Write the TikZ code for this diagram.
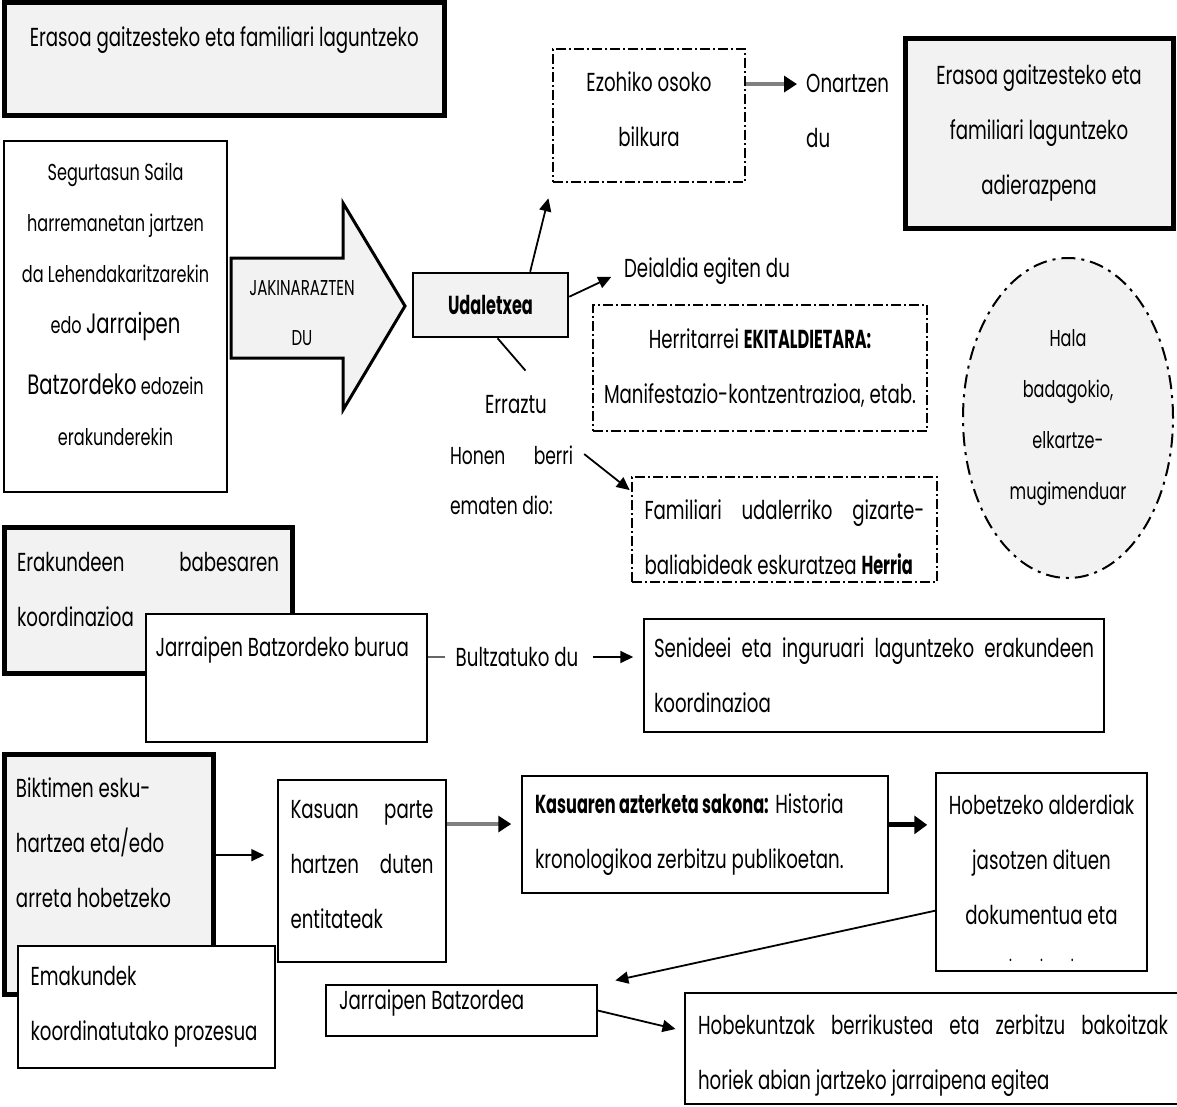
\documentclass[tikz,border=0pt]{standalone}
\usepackage{fontspec}
\setmainfont{Poppins}[FakeStretch=0.70, BoldFeatures={FakeStretch=0.62}]
\usetikzlibrary{arrows.meta, positioning, shapes.geometric, calc}
\definecolor{boxgray}{RGB}{242,242,242}
\hyphenpenalty=10000
\exhyphenpenalty=10000

\tikzset{
  plainbox/.style={draw, line width=1.5pt, fill=white, inner sep=0pt},
  heavybox/.style={draw, line width=5pt, fill=boxgray, inner sep=0pt},
  dashbox/.style={draw, line width=1.5pt, dash pattern=on 10pt off 3pt on 2pt off 3pt, inner sep=0pt},
  arr/.style={line width=1.8pt, -{Triangle[length=13pt,width=12pt]}},
  grayarr/.style={line width=4.5pt, draw=black!50, -{Triangle[length=13pt,width=16pt,color=black]}},
  fatarr/.style={line width=5pt, -{Triangle[length=13pt,width=18pt]}},
  small/.style={font=\fontsize{23}{51}\selectfont},
  tiny/.style={font=\fontsize{21.5}{50}\selectfont},
}

\begin{document}
\begin{tikzpicture}[x=1pt, y=-1pt, every node/.style={font=\fontsize{26}{55}\selectfont, inner sep=0pt}]
  \useasboundingbox (0,0) rectangle (1177,1106);

  % first row
  \node[heavybox, minimum width=439.5pt, minimum height=112.5pt, text height=19pt, text depth=44pt]
    (title) at (224.25,58.75) {Erasoa gaitzesteko eta familiari laguntzeko};
  \node[plainbox, small, minimum width=223pt, minimum height=351pt, text width=215pt, align=flush center,
    text height=17pt, text depth=290pt] (segur) at (115.5,316.5)
    {Segurtasun Saila\\harremanetan jartzen\\da Lehendakaritzarekin\\edo {\fontsize{28}{51}\selectfont Jarraipen}\\[10pt]{\fontsize{28}{51}\selectfont Batzordeko} edozein\\erakunderekin};

  % jakinarazten arrow
  \draw[line width=3pt, fill=boxgray] (231,258) -- (343,258) -- (343,203) -- (405,306)
    -- (343,410) -- (343,358) -- (231,358) -- cycle;
  \node[tiny, align=center] (jakin) at (302,313) {JAKINARAZTEN\\DU};

  \node[draw, line width=2.5pt, fill=boxgray, minimum width=155pt, minimum height=64pt,
    font=\fontsize{26}{55}\selectfont\bfseries] (udal) at (490.5,305) {Udaletxea};
  \node[dashbox, minimum width=192pt, minimum height=133pt, text width=175pt, align=flush center,
    text height=19pt, text depth=68pt] (ezoh) at (649,115.5) {Ezohiko osoko\\bilkura};
  \node[align=left, anchor=west] (onart) at (806,111) {Onartzen\\du};
  \node[heavybox, minimum width=268pt, minimum height=190pt, align=center] (adier) at (1039,133)
    {Erasoa gaitzesteko eta\\familiari laguntzeko\\adierazpena};
  \node (deial) at (707,271) {Deialdia egiten du};
  \node[dashbox, minimum width=334pt, minimum height=126pt, align=center] (herri) at (760,368)
    {Herritarrei \textbf{EKITALDIETARA:}\\Manifestazio-kontzentrazioa, etab.};
  \node (erraz) at (516,405) {Erraztu};
  \node[text width=123pt, align=justify, font=\fontsize{24.5}{50}\selectfont] (honen) at (511.5,480) {Honen berri\linebreak ematen dio:};
  \node[dashbox, minimum width=305pt, minimum height=105pt, text width=280pt, align=justify,
    text height=19pt, text depth=40pt] (famil) at (784.5,529.5)
    {Familiari udalerriko gizarte-\linebreak baliabideak eskuratzea \textbf{Herria}};
  \node[ellipse, draw, line width=2pt, fill=boxgray, dash pattern=on 14pt off 6pt on 3pt off 6pt,
    minimum width=210pt, minimum height=320pt, align=center, font=\fontsize{23}{51}\selectfont] (hala) at (1068,418)
    {Hala\\badagokio,\\elkartze-\\mugimenduar};

  \draw[grayarr, shorten >=9pt] (ezoh.18) -- (ezoh.18 -| onart.west);
  \draw[arr, shorten >=16pt] (udal.40) -- (ezoh.south west);
  \draw[arr, shorten >=14pt] (udal.6) -- (deial.west);
  \draw[line width=1.8pt, shorten >=33pt] (udal.-78) -- (erraz.north east);
  \draw[arr, shorten <=14pt, shorten >=2pt] (honen.north east) -- (famil.166);

  % second row
  \node[heavybox, minimum width=288pt, minimum height=146pt, text width=262pt, align=justify,
    text height=19pt, text depth=77pt] (erak) at (148,600) {Erakundeen babesaren\linebreak koordinazioa};
  \node[plainbox, minimum width=281pt, minimum height=128pt, text width=262pt, align=flush left,
    text height=19pt, text depth=63pt] (jbb) at (286.5,678) {Jarraipen Batzordeko burua};
  \node (bultz) at (517,657) {Bultzatuko du};
  \node[plainbox, minimum width=460pt, minimum height=113pt, text width=440pt, align=justify] (senid) at (874,675.5)
    {Senideei eta inguruari laguntzeko erakundeen\linebreak koordinazioa};

  \draw[line width=1.5pt, draw=black!60, shorten >=11pt] (bultz.west -| jbb.east) -- (bultz.west);
  \draw[arr, shorten <=14pt, shorten >=10pt] (bultz.east) -- (bultz.east -| senid.west);

  % third row
  \node[heavybox, minimum width=209pt, minimum height=240pt, text width=185pt, align=flush left,
    text height=19pt, text depth=173pt] (biktim) at (108.5,874) {Biktimen esku-\\hartzea eta/edo\\arreta hobetzeko};
  \node[plainbox, minimum width=257pt, minimum height=122pt, text width=232pt, align=flush left] (emak) at (146.5,1007)
    {Emakundek\\koordinatutako prozesua};
  \node[plainbox, minimum width=168pt, minimum height=182pt, text width=143pt, align=justify,
    text height=19pt, text depth=125pt] (kasuan) at (362,871)
    {Kasuan parte\linebreak hartzen duten\linebreak entitateak};
  \node[plainbox, minimum width=366pt, minimum height=117pt, text width=340pt, align=flush left] (kasuaren) at (705,834.5)
    {\textbf{Kasuaren azterketa sakona:} Historia\\kronologikoa zerbitzu publikoetan.};
  \node[plainbox, minimum width=211pt, minimum height=198pt, text width=195pt, align=flush center,
    text height=19pt, text depth=135pt] (hobet) at (1041.5,872)
    {Hobetzeko alderdiak\\jasotzen dituen\\dokumentua eta\\[-18pt]{\fontsize{20}{20}\selectfont .\hspace{28pt}.\hspace{28pt}.}};
  \node[plainbox, minimum width=271pt, minimum height=51pt, text width=245pt, align=flush left,
    text height=19pt, text depth=22pt] (jbat) at (461.5,1010.5) {Jarraipen Batzordea};
  \node[plainbox, minimum width=496pt, minimum height=111pt, text width=470pt, align=justify,
    text height=19pt, text depth=48pt] (hobek) at (933,1048.5)
    {Hobekuntzak berrikustea eta zerbitzu bakoitzak\linebreak horiek abian jartzeko jarraipena egitea};

  \draw[arr, shorten >=13pt] (biktim.10) -- (biktim.10 -| kasuan.west);
  \draw[grayarr, shorten >=10pt] (kasuan.29) -- (kasuan.29 -| kasuaren.west);
  \draw[fatarr, shorten >=8pt] (kasuaren.3) -- (kasuaren.3 -| hobet.west);
  \draw[arr, shorten >=18pt] (hobet.200) -- (jbat.north east);
  \draw[arr, shorten >=9pt] (jbat.east) -- (hobek.176);
\end{tikzpicture}
\end{document}
